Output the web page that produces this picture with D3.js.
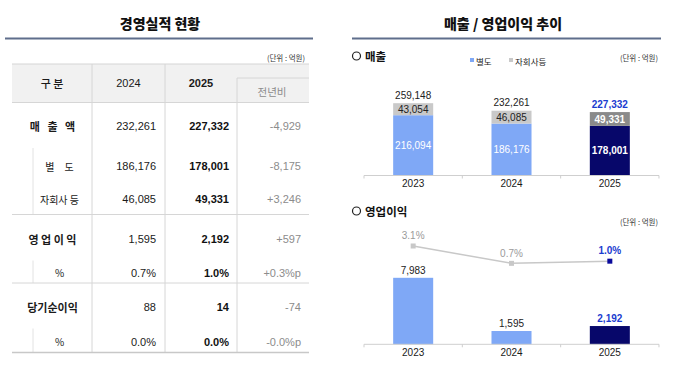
<!DOCTYPE html>
<html>
<head>
<meta charset="utf-8">
<script src="https://cdn.jsdelivr.net/npm/d3@7/dist/d3.min.js"></script>
<style>
  html, body { margin: 0; padding: 0; background: #fff; }
  svg { display: block; font-family: "Liberation Sans", Arial, "Noto Sans CJK KR", sans-serif; }
  .kr { font-family: "Noto Sans CJK KR", "Liberation Sans", sans-serif; }
</style>
</head>
<body>
<svg id="chart" width="680" height="368"></svg>
<script>
// ---------- DATA ----------
const years = ["2023", "2024", "2025"];
const standalone = [216094, 186176, 178001];
const subsidiaries = [43054, 46085, 49331];
const totals = [259148, 232261, 227332];
const opProfit = [7983, 1595, 2192];
const opMargin = [3.1, 0.7, 1.0];

const tableHeaders = ["구 분", "2024", "2025", "전년비"];
const rowLabels = ["매 출 액", "별 도", "자회사 등", "영 업 이 익", "%", "당기순이익", "%"];
const values2024 = ["232,261", "186,176", "46,085", "1,595", "0.7%", "88", "0.0%"];
const values2025 = ["227,332", "178,001", "49,331", "2,192", "1.0%", "14", "0.0%"];
const yoyChange = ["-4,929", "-8,175", "+3,246", "+597", "+0.3%p", "-74", "-0.0%p"];
const isSubRow = [false, true, true, false, true, false, true];

const leftTitle = "경영실적 현황";
const rightTitle = "매출 / 영업이익 추이";
const unitLabel = "(단위 : 억원)";
const salesTitle = "매출";
const profitTitle = "영업이익";
const legendLabels = ["별도", "자회사등"];

// ---------- STYLE ----------
const C = {
  lightBlue: "#7fa8f6",
  navy: "#07076a",
  lightGray: "#c9c9c9",
  darkGray: "#8a8a8a",
  blueText: "#1b3ccf",
  grid: "#d6d6d6",
  text: "#1a1a1a",
  muted: "#8c8c8c",
  rule: "#5f6e8c"
};

const svg = d3.select("#chart");

// ---------- TITLES ----------
function title(cx, x1, x2, txt) {
  svg.append("text").attr("class", "kr").attr("x", cx).attr("y", 23)
    .attr("text-anchor", "middle").attr("dominant-baseline", "central")
    .attr("font-size", 14).attr("font-weight", 900).attr("fill", "#111").text(txt);
  svg.append("line").attr("x1", x1).attr("x2", x2).attr("y1", 38.5).attr("y2", 38.5)
    .attr("stroke", C.rule).attr("stroke-width", 2);
}
title(160, 5, 313, leftTitle);
title(503, 352, 661, rightTitle);

// ---------- TABLE ----------
const T = { x0: 12, x1: 309, top: 64, headBottom: 102.5, subHeadTop: 78 };
const colEdges = [12, 92, 165, 237, 309];
const rowHeights = [45.5, 34, 32.5, 46, 22.5, 45.5, 24];
const rowTops = [];
{ let y = T.headBottom; rowHeights.forEach(h => { rowTops.push(y); y += h; }); }
const tableBottom = rowTops[rowTops.length - 1] + rowHeights[rowHeights.length - 1];

svg.append("text").attr("class", "kr").attr("x", 305).attr("y", 57)
  .attr("text-anchor", "end").attr("dominant-baseline", "central")
  .attr("font-size", 7.5).attr("fill", "#333").text(unitLabel);

const tbl = svg.append("g");
tbl.append("rect").attr("x", T.x0).attr("y", T.top).attr("width", T.x1 - T.x0)
  .attr("height", T.headBottom - T.top).attr("fill", "#f1f1f1");
tbl.append("line").attr("x1", T.x0).attr("x2", T.x1).attr("y1", T.top).attr("y2", T.top)
  .attr("stroke", C.grid).attr("stroke-width", 1.2);
tbl.append("line").attr("x1", T.x0).attr("x2", T.x1).attr("y1", T.headBottom).attr("y2", T.headBottom)
  .attr("stroke", C.grid).attr("stroke-width", 1.2);
// 전년비 sub cell
tbl.append("line").attr("x1", colEdges[3]).attr("x2", T.x1).attr("y1", T.subHeadTop).attr("y2", T.subHeadTop)
  .attr("stroke", C.grid);
// vertical lines
[colEdges[1], colEdges[2]].forEach(x => tbl.append("line").attr("x1", x).attr("x2", x)
  .attr("y1", T.top).attr("y2", tableBottom).attr("stroke", C.grid));
tbl.append("line").attr("x1", colEdges[3]).attr("x2", colEdges[3])
  .attr("y1", T.subHeadTop).attr("y2", tableBottom).attr("stroke", C.grid);

// header text
const headY = [83.3, 83.3, 82.5, 91];
tableHeaders.forEach((h, i) => {
  tbl.append("text").attr("class", i === 0 || i === 3 ? "kr" : null)
    .attr("x", (colEdges[i] + colEdges[i + 1]) / 2 + (i === 3 ? -1 : 0))
    .attr("y", headY[i]).attr("text-anchor", "middle").attr("dominant-baseline", "central")
    .attr("font-size", i === 3 ? 10.5 : 11)
    .attr("font-weight", i === 2 ? 700 : (i === 0 ? 500 : 400))
    .attr("fill", i === 3 ? C.muted : C.text).text(h);
});

// rows
rowLabels.forEach((lab, i) => {
  const top = rowTops[i], h = rowHeights[i];
  const cy = top + h / 2 + 1;
  const sub = isSubRow[i];
  if (!sub && i > 0) {
    tbl.append("line").attr("x1", T.x0).attr("x2", T.x1).attr("y1", top).attr("y2", top)
      .attr("stroke", C.grid);
  }
  if (sub) {
    tbl.append("line").attr("x1", 33).attr("x2", 33).attr("y1", top).attr("y2", top + h)
      .attr("stroke", "#e2e2e2");
  }
  const ls = i === 0 ? 2.5 : (i === 1 ? 4 : 0);
  tbl.append("text").attr("class", "kr")
    .attr("x", (sub ? 59.5 : 52.5) + ls / 2).attr("y", cy)
    .attr("text-anchor", "middle").attr("dominant-baseline", "central")
    .attr("font-size", sub ? 10 : 11).attr("font-weight", sub ? 400 : 700)
    .attr("letter-spacing", ls).attr("fill", C.text).text(lab);
  tbl.append("text").attr("x", 156).attr("y", cy).attr("text-anchor", "end")
    .attr("dominant-baseline", "central").attr("font-size", 11).attr("fill", C.text).text(values2024[i]);
  tbl.append("text").attr("x", 229).attr("y", cy).attr("text-anchor", "end")
    .attr("dominant-baseline", "central").attr("font-size", 11).attr("font-weight", 700)
    .attr("fill", "#111").text(values2025[i]);
  tbl.append("text").attr("x", 301).attr("y", cy).attr("text-anchor", "end")
    .attr("dominant-baseline", "central").attr("font-size", 11).attr("fill", C.muted).text(yoyChange[i]);
});
tbl.append("line").attr("x1", T.x0).attr("x2", T.x1).attr("y1", tableBottom).attr("y2", tableBottom)
  .attr("stroke", "#c8c8c8").attr("stroke-width", 1.5);

// ---------- RIGHT CHARTS ----------
const fmt = d3.format(",");
const last = years.length - 1;
const x = d3.scaleBand().domain(years).range([364, 659]).paddingInner(0.593).paddingOuter(0.2966);

function sectionHeader(y, txt) {
  svg.append("circle").attr("cx", 356.5).attr("cy", y).attr("r", 4)
    .attr("fill", "none").attr("stroke", "#222").attr("stroke-width", 1.2);
  svg.append("text").attr("class", "kr").attr("x", 365).attr("y", y)
    .attr("dominant-baseline", "central").attr("font-size", 11.5).attr("font-weight", 700)
    .attr("fill", "#111").text(txt);
}
function xAxis(y0, labelY) {
  const g = svg.append("g");
  const r = x.range();
  g.append("line").attr("x1", r[0]).attr("x2", r[1]).attr("y1", y0).attr("y2", y0)
    .attr("stroke", "#cfcfcf");
  const step = x.step();
  d3.range(years.length + 1).forEach(k => {
    const tx = r[0] + k * step;
    g.append("line").attr("x1", tx).attr("x2", tx).attr("y1", y0).attr("y2", y0 + 3)
      .attr("stroke", "#cfcfcf");
  });
  g.selectAll("text.xl").data(years).join("text").attr("class", "xl")
    .attr("x", d => x(d) + x.bandwidth() / 2).attr("y", labelY)
    .attr("text-anchor", "middle").attr("dominant-baseline", "central")
    .attr("font-size", 10).attr("fill", C.text).text(d => d);
}

// Sales chart
sectionHeader(56, salesTitle);
svg.append("text").attr("class", "kr").attr("x", 658).attr("y", 57)
  .attr("text-anchor", "end").attr("dominant-baseline", "central")
  .attr("font-size", 7.5).attr("fill", "#333").text(unitLabel);
// legend
const legColors = [C.lightBlue, C.lightGray];
const legX = [470, 509];
legendLabels.forEach((l, i) => {
  svg.append("rect").attr("x", legX[i]).attr("y", 58).attr("width", 4).attr("height", 4).attr("fill", legColors[i]);
  svg.append("text").attr("class", "kr").attr("x", legX[i] + 6).attr("y", 60.5)
    .attr("dominant-baseline", "central").attr("font-size", 8.5).attr("fill", "#222").text(l);
});

const ySales = d3.scaleLinear().domain([0, 280000]).range([175.5, 175.5 - 280000 * 72.3 / 259148]);
const sales = years.map((yr, i) => ({ yr, i, s: standalone[i], sub: subsidiaries[i], tot: totals[i] }));
const sg = svg.append("g");
sg.selectAll("rect.s").data(sales).join("rect").attr("class", "s")
  .attr("x", d => x(d.yr)).attr("width", x.bandwidth())
  .attr("y", d => ySales(d.s)).attr("height", d => ySales(0) - ySales(d.s))
  .attr("fill", d => d.i === last ? C.navy : C.lightBlue);
sg.selectAll("rect.g").data(sales).join("rect").attr("class", "g")
  .attr("x", d => x(d.yr)).attr("width", x.bandwidth())
  .attr("y", d => ySales(d.s + d.sub)).attr("height", d => ySales(d.s) - ySales(d.s + d.sub))
  .attr("fill", d => d.i === last ? C.darkGray : C.lightGray);
// labels
sg.selectAll("text.sv").data(sales).join("text").attr("class", "sv")
  .attr("x", d => x(d.yr) + x.bandwidth() / 2).attr("y", d => (ySales(d.s) + ySales(0)) / 2)
  .attr("text-anchor", "middle").attr("dominant-baseline", "central")
  .attr("font-size", 10).attr("font-weight", d => d.i === last ? 700 : 400)
  .attr("fill", "#fff").text(d => fmt(d.s));
sg.selectAll("text.gv").data(sales).join("text").attr("class", "gv")
  .attr("x", d => x(d.yr) + x.bandwidth() / 2).attr("y", d => (ySales(d.s) + ySales(d.s + d.sub)) / 2 + 0.5)
  .attr("text-anchor", "middle").attr("dominant-baseline", "central")
  .attr("font-size", 10).attr("font-weight", d => d.i === last ? 700 : 400)
  .attr("fill", d => d.i === last ? "#fff" : "#222").text(d => fmt(d.sub));
sg.selectAll("text.tv").data(sales).join("text").attr("class", "tv")
  .attr("x", d => x(d.yr) + x.bandwidth() / 2).attr("y", d => ySales(d.tot) - 8)
  .attr("text-anchor", "middle").attr("dominant-baseline", "central")
  .attr("font-size", 10).attr("font-weight", d => d.i === last ? 700 : 400)
  .attr("fill", d => d.i === last ? C.blueText : "#222").text(d => fmt(d.tot));
xAxis(175.5, 183);

// Operating profit chart
sectionHeader(211, profitTitle);
svg.append("text").attr("class", "kr").attr("x", 658).attr("y", 221)
  .attr("text-anchor", "end").attr("dominant-baseline", "central")
  .attr("font-size", 7.5).attr("fill", "#333").text(unitLabel);

const yOp = d3.scaleLinear().domain([0, 8000]).range([344.3, 344.3 - 8000 * 66.5 / 7983]);
const yPct = d3.scaleLinear().domain([0, 3.1]).range([268.4, 246]);
const ops = years.map((yr, i) => ({ yr, i, v: opProfit[i], p: opMargin[i] }));
const og = svg.append("g");
og.selectAll("rect").data(ops).join("rect")
  .attr("x", d => x(d.yr)).attr("width", x.bandwidth())
  .attr("y", d => yOp(d.v)).attr("height", d => yOp(0) - yOp(d.v))
  .attr("fill", d => d.i === last ? C.navy : C.lightBlue);
og.selectAll("text.ov").data(ops).join("text").attr("class", "ov")
  .attr("x", d => x(d.yr) + x.bandwidth() / 2).attr("y", d => yOp(d.v) - 7.5)
  .attr("text-anchor", "middle").attr("dominant-baseline", "central")
  .attr("font-size", 10).attr("font-weight", d => d.i === last ? 700 : 400)
  .attr("fill", d => d.i === last ? C.blueText : "#222").text(d => fmt(d.v));
const line = d3.line().x(d => x(d.yr) + x.bandwidth() / 2).y(d => yPct(d.p));
og.append("path").datum(ops).attr("d", line).attr("fill", "none")
  .attr("stroke", "#c8c8c8").attr("stroke-width", 1.5);
og.selectAll("rect.m").data(ops).join("rect").attr("class", "m")
  .attr("x", d => x(d.yr) + x.bandwidth() / 2 - 2.5).attr("y", d => yPct(d.p) - 2.5)
  .attr("width", 5).attr("height", 5)
  .attr("fill", d => d.i === last ? "#0a0a9c" : "#c8c8c8");
og.selectAll("text.pv").data(ops).join("text").attr("class", "pv")
  .attr("x", d => x(d.yr) + x.bandwidth() / 2).attr("y", d => yPct(d.p) - 10.3)
  .attr("text-anchor", "middle").attr("dominant-baseline", "central")
  .attr("font-size", 10).attr("font-weight", d => d.i === last ? 700 : 400)
  .attr("fill", d => d.i === last ? C.blueText : "#9a9a9a").text(d => d.p.toFixed(1) + "%");
xAxis(344.3, 352.7);
</script>
</body>
</html>
